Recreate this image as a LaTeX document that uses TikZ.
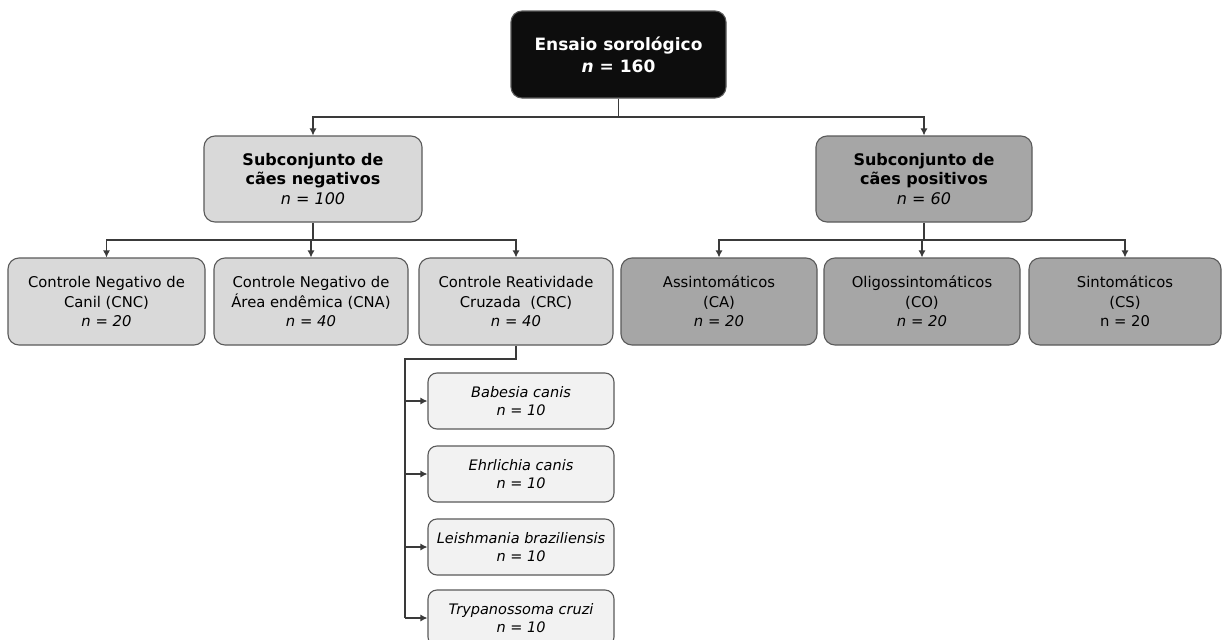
\documentclass[tikz,border=0pt]{standalone}
\usepackage{fontspec}
\setmainfont{DejaVu Sans}
\usetikzlibrary{arrows.meta}
\definecolor{lg}{HTML}{D9D9D9}
\definecolor{dg}{HTML}{A6A6A6}
\definecolor{vg}{HTML}{F2F2F2}
\definecolor{bd}{HTML}{5A5A5A}
\definecolor{ln}{HTML}{3A3A3A}
\definecolor{blk}{HTML}{0D0D0D}
\tikzset{
  box/.style={draw=bd, line width=1.1pt, rounded corners=11pt, align=center, inner sep=0pt, minimum height=87pt},
  lvlthree/.style={box, font=\fontsize{14.8}{19.5}\selectfont},
  subbox/.style={box, fill=vg, minimum width=186pt, minimum height=56pt, rounded corners=9pt, font=\fontsize{14.5}{18}\selectfont},
  lnk/.style={draw=ln, line width=1.2pt},
  arr/.style={draw=ln, line width=1.2pt, -{Latex[length=7pt,width=7pt]}}
}
\begin{document}
\begin{tikzpicture}[x=1pt,y=-1pt]
\clip (0,0) rectangle (1224,640);
\fill[white] (0,0) rectangle (1224,640);

\node[box, fill=blk, minimum width=215pt, text=white, font=\fontsize{17}{22}\selectfont\bfseries] (top) at (618.5,54.5) {Ensaio sorológico\\\textit{n} = 160};

\node[box, fill=lg, minimum width=218pt, minimum height=86pt, font=\fontsize{16}{19.5}\selectfont] (neg) at (313,179) {\textbf{Subconjunto de}\\\textbf{cães negativos}\\\textit{n = 100}};
\node[box, fill=dg, minimum width=216pt, minimum height=86pt, font=\fontsize{16}{19.5}\selectfont] (pos) at (924,179) {\textbf{Subconjunto de}\\\textbf{cães positivos}\\\textit{n = 60}};

\node[lvlthree, fill=lg, minimum width=197pt] (cnc) at (106.5,301.5) {Controle Negativo de\\Canil (CNC)\\\textit{n = 20}};
\node[lvlthree, fill=lg, minimum width=194pt] (cna) at (311,301.5) {Controle Negativo de\\Área endêmica (CNA)\\\textit{n = 40}};
\node[lvlthree, fill=lg, minimum width=194pt] (crc) at (516,301.5) {Controle Reatividade\\Cruzada\ \ (CRC)\\\textit{n = 40}};

\node[lvlthree, fill=dg, minimum width=196pt] (ca) at (719,301.5) {Assintomáticos\\(CA)\\\textit{n = 20}};
\node[lvlthree, fill=dg, minimum width=196pt] (co) at (922,301.5) {Oligossintomáticos\\(CO)\\\textit{n = 20}};
\node[lvlthree, fill=dg, minimum width=192pt] (cs) at (1125,301.5) {Sintomáticos\\(CS)\\n = 20};

\node[subbox] (bab) at (521,401) {\textit{Babesia canis}\\\textit{n = 10}};
\node[subbox] (ehr) at (521,474) {\textit{Ehrlichia canis}\\\textit{n = 10}};
\node[subbox] (lei) at (521,547) {\textit{Leishmania braziliensis}\\\textit{n = 10}};
\node[subbox] (try) at (521,618) {\textit{Trypanossoma cruzi}\\\textit{n = 10}};

\coordinate (j1) at (618.5,117);
\draw[lnk] (top.south) -- (j1);
\draw[arr] (j1) -| (neg.north);
\draw[arr] (j1) -| (pos.north);

\coordinate (j2) at (313,240);
\draw[lnk] (neg.south) -- (j2);
\draw[arr] (j2) -| (cnc.north);
\draw[arr] (j2) -| (cna.north);
\draw[arr] (j2) -| (crc.north);

\coordinate (j3) at (924,240);
\draw[lnk] (pos.south) -- (j3);
\draw[arr] (j3) -| (ca.north);
\draw[arr] (j3) -| (co.north);
\draw[arr] (j3) -| (cs.north);

\coordinate (vl) at (405,359);
\draw[lnk] (crc.south) |- (vl) -- (vl |- try.west);
\foreach \n in {bab,ehr,lei,try} \draw[arr] (vl |- \n.west) -- (\n.west);
\end{tikzpicture}
\end{document}
